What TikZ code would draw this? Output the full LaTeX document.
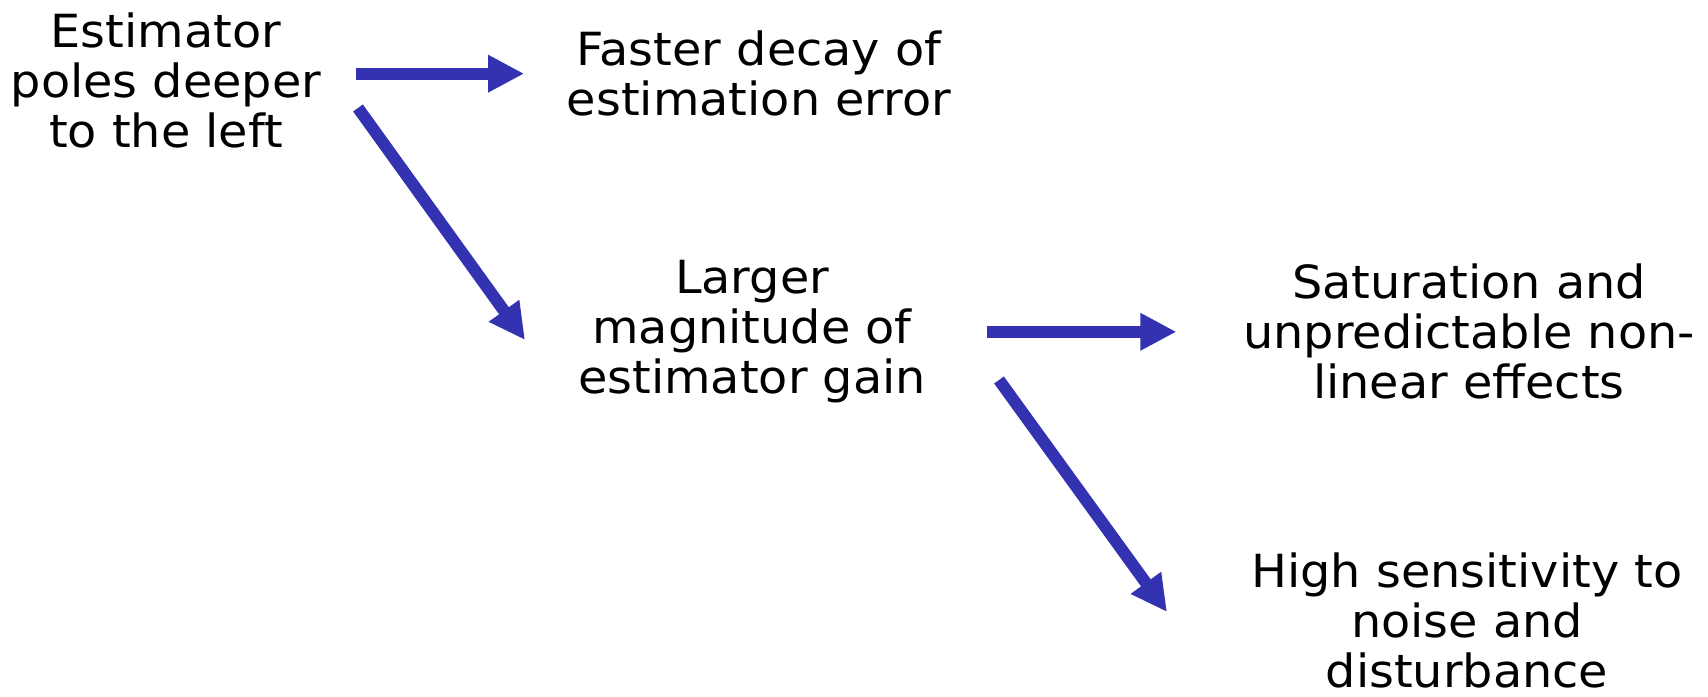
\documentclass[tikz,border=0pt]{standalone}
\usepackage{fontspec}
\setmainfont[FakeStretch=1.045]{DejaVu Sans}
\usetikzlibrary{arrows.meta,positioning,calc}
\definecolor{indigo}{RGB}{51,51,178}
\tikzset{
  >={Triangle[length=3.6mm,width=3.5mm]},
  lbl/.style={align=center,inner sep=0pt,anchor=north,
    font=\fontsize{13}{14.23}\selectfont},
  flow/.style={->,draw=#1,line width=0.12cm},
  flow/.default=indigo,
}
\begin{document}
\begin{tikzpicture}
        \useasboundingbox (0,0) rectangle (17.08,-6.97);
        \node[lbl] (est) at (1.66,-0.117) {Estimator\\poles deeper\\to the left};
        \node[lbl] (fast) at (7.59,-0.303) {Faster decay of\\estimation error};
        \node[lbl] (gain) at (7.52,-2.597) {Larger\\magnitude of\\estimator gain};
        \node[lbl] (sat) at (14.69,-2.633) {Saturation and\\unpredictable non-\\linear effects};
        \node[lbl] (noise) at (14.67,-5.523) {High sensitivity to\\noise and\\disturbance};
        % free ends of the slanted arrows
        \coordinate (d1s) at (3.58,-1.08); \coordinate (d1e) at (5.25,-3.40);
        \coordinate (d2s) at (9.99,-3.80); \coordinate (d2e) at (11.67,-6.12);
        \draw[flow,shorten <=0.34cm,shorten >=0.42cm] (est.east |- fast.west) -- (fast.west);
        \draw[flow,shorten <=0.6cm,shorten >=0.66cm] (gain.east) -- (gain.east -| sat.west);
        \draw[flow] (d1s) -- (d1e); \draw[flow] (d2s) -- (d2e);
      \end{tikzpicture}
\end{document}
